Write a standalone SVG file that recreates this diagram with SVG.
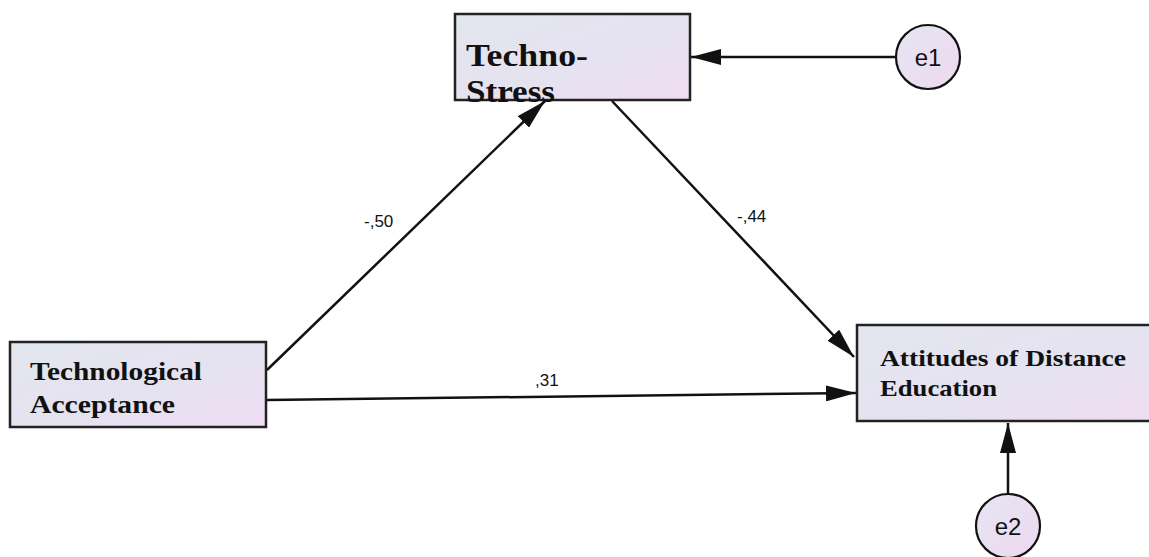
<svg xmlns="http://www.w3.org/2000/svg" width="1149" height="557" viewBox="0 0 1149 557">
  <style>
    .box { stroke: #222; stroke-width: 2.5; fill: url(#boxFill); }
    .err { stroke: #111; stroke-width: 2.2; fill: url(#errFill); }
    .lbl { font-family: "Liberation Serif", "Times New Roman", serif; font-weight: bold; fill: #111; }
    .coef { font-family: "Liberation Sans", Arial, sans-serif; font-size: 17px; fill: #111; }
    .errTxt { font-family: "Liberation Sans", Arial, sans-serif; font-size: 24px; fill: #111; text-anchor: middle; }
    .path { stroke: #111; stroke-width: 2.5; fill: none; marker-end: url(#head); }
  </style>
  <defs>
    <linearGradient id="boxFill" x1="0" y1="0" x2="1" y2="1">
      <stop offset="0" stop-color="#e2e6ee"/>
      <stop offset="0.6" stop-color="#e6e2f0"/>
      <stop offset="1" stop-color="#efdcf0"/>
    </linearGradient>
    <linearGradient id="errFill" x1="0" y1="0" x2="1" y2="1">
      <stop offset="0" stop-color="#e4e6f2"/>
      <stop offset="1" stop-color="#efd8f0"/>
    </linearGradient>
    <marker id="head" viewBox="0 0 30 16" refX="30" refY="8" markerWidth="30" markerHeight="16" markerUnits="userSpaceOnUse" orient="auto">
      <path d="M0,0 L30,8 L0,16 z" fill="#111"/>
    </marker>
  </defs>

  <!-- structural paths -->
  <g id="connectors">
    <line class="path" x1="896" y1="57" x2="691" y2="57"/>
    <line class="path" x1="1008" y1="494" x2="1008" y2="423"/>
    <line class="path" x1="267" y1="370" x2="545" y2="101"/>
    <line class="path" x1="612" y1="101" x2="854" y2="357"/>
    <line class="path" x1="267" y1="400" x2="856" y2="393"/>
    <text class="coef" x="364" y="227">-,50</text>
    <text class="coef" x="737" y="222">-,44</text>
    <text class="coef" x="535" y="386">,31</text>
  </g>

  <g id="techno-stress">
    <rect class="box" x="455" y="14" width="235" height="86"/>
    <text class="lbl" x="466" y="66" font-size="31" textLength="122" lengthAdjust="spacingAndGlyphs">Techno-</text>
    <text class="lbl" x="466" y="102" font-size="31" textLength="89" lengthAdjust="spacingAndGlyphs">Stress</text>
  </g>

  <g id="technological-acceptance">
    <rect class="box" x="10" y="342" width="256" height="85"/>
    <text class="lbl" x="30" y="380" font-size="26" textLength="172" lengthAdjust="spacingAndGlyphs">Technological</text>
    <text class="lbl" x="30" y="413" font-size="26" textLength="145" lengthAdjust="spacingAndGlyphs">Acceptance</text>
  </g>

  <g id="attitudes">
    <rect class="box" x="857" y="325" width="300" height="96"/>
    <text class="lbl" x="880" y="366" font-size="24" textLength="246" lengthAdjust="spacingAndGlyphs">Attitudes of Distance</text>
    <text class="lbl" x="880" y="396" font-size="24" textLength="117" lengthAdjust="spacingAndGlyphs">Education</text>
  </g>

  <g id="e1">
    <circle class="err" cx="928" cy="57" r="32"/>
    <text class="errTxt" x="928" y="66">e1</text>
  </g>

  <g id="e2">
    <circle class="err" cx="1008" cy="526" r="32"/>
    <text class="errTxt" x="1008" y="535">e2</text>
  </g>
</svg>
